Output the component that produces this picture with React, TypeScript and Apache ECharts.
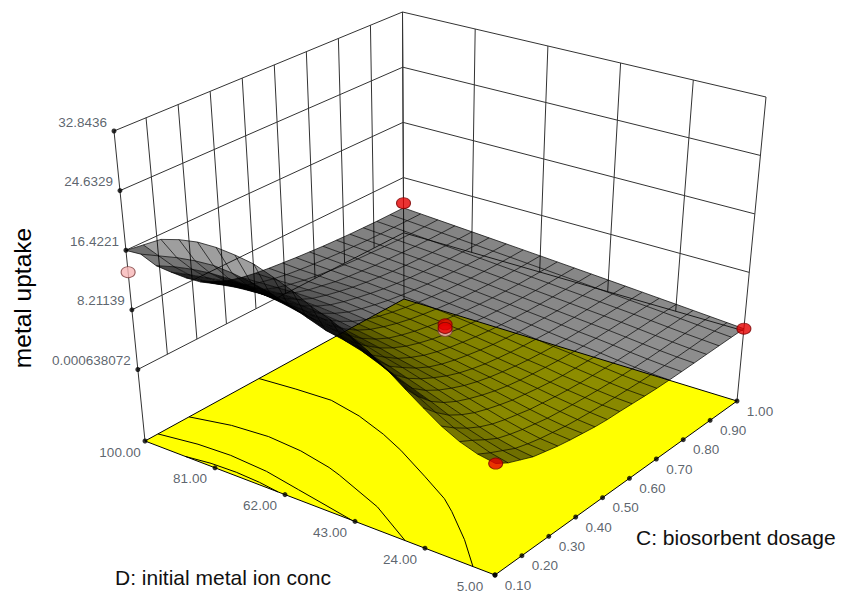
import React, { useEffect, useRef } from "react";
import * as echarts from "echarts";

const zTicks = [32.8436, 24.6329, 16.4221, 8.21139, 0.000638072];
const zTickLabels = ["32.8436", "24.6329", "16.4221", "8.21139", "0.000638072"];
const cTicks = [0.1, 0.2, 0.3, 0.4, 0.5, 0.6, 0.7, 0.8, 0.9, 1.0];
const dTicks = [100, 81, 62, 43, 24, 5];
const Z_MIN = 0.000638072, Z_MAX = 32.8436;

// metal uptake: one row per D step (100 -> 5), one column per C step (0.10 -> 1.00)
const uptake: number[][] = [
  [16.4,15,12.5,10.7,9,7.5,6.6,5.8,5.3,4.95,4.7,4.5,4.3,4.15,4,3.9,3.8,3.75,3.7,3.7,3.7],
  [18,15.6,13.2,11.2,9.4,8,6.9,6,5.4,4.95,4.6,4.35,4.15,4,3.85,3.75,3.65,3.6,3.55,3.53,3.53],
  [19.6,16.2,13.7,11.6,10,8.4,7.2,6.2,5.5,5,4.6,4.3,4.05,3.85,3.7,3.6,3.5,3.42,3.38,3.36,3.36],
  [20.4,16.6,14,12,10.2,8.6,7.4,6.4,5.6,5,4.6,4.2,3.95,3.75,3.55,3.45,3.35,3.25,3.2,3.19,3.19],
  [20.9,16.8,14.1,12.1,10.3,8.7,7.5,6.4,5.6,5.05,4.6,4.2,3.9,3.65,3.45,3.3,3.2,3.1,3.05,3.02,3.02],
  [21,16.6,14,11.9,10.2,8.6,7.3,6.3,5.5,4.95,4.5,4.1,3.75,3.5,3.3,3.15,3.02,2.93,2.88,2.85,2.85],
  [20.8,16.2,13.7,11.6,10,8.3,7.1,6.1,5.3,4.75,4.3,3.9,3.6,3.35,3.15,3,2.85,2.76,2.7,2.68,2.68],
  [20.4,15.6,13.3,11.1,9.6,8,6.8,5.8,5.05,4.5,4.05,3.7,3.4,3.15,2.95,2.8,2.68,2.58,2.52,2.51,2.51],
  [19.5,14.8,12.7,10.7,9,7.6,6.4,5.5,4.85,4.3,3.85,3.5,3.2,2.95,2.75,2.6,2.48,2.4,2.35,2.34,2.34],
  [18.5,13.9,11.9,10.2,8.5,7.1,6,5.1,4.5,4,3.6,3.25,3,2.75,2.55,2.4,2.28,2.2,2.17,2.17,2.17],
  [17.2,13,11.2,9.4,7.9,6.6,5.6,4.8,4.2,3.7,3.3,3,2.75,2.5,2.35,2.2,2.1,2.03,2,2,2],
  [16.3,12.5,10.6,8.5,7.2,6,5.1,4.35,3.8,3.35,3,2.7,2.45,2.25,2.1,1.98,1.9,1.85,1.83,1.83,1.83],
  [15.1,11.8,9.6,7.8,6.6,5.5,4.6,3.95,3.45,3.05,2.7,2.4,2.2,2,1.88,1.78,1.7,1.67,1.66,1.66,1.66],
  [13.8,10.8,8.5,7,5.9,5,4.2,3.55,3.05,2.65,2.35,2.1,1.9,1.75,1.62,1.55,1.5,1.49,1.49,1.49,1.49],
  [12.2,9.6,7.5,6.2,5.2,4.4,3.7,3.15,2.7,2.35,2.05,1.8,1.62,1.48,1.38,1.33,1.32,1.32,1.32,1.32,1.32],
  [10.4,8.3,6.6,5.4,4.5,3.8,3.2,2.7,2.3,2,1.75,1.55,1.38,1.27,1.18,1.15,1.15,1.15,1.15,1.15,1.15],
  [8.7,7,5.6,4.6,3.8,3.2,2.7,2.25,1.95,1.65,1.4,1.2,1.1,1,0.95,0.93,0.93,0.95,0.97,0.98,0.98],
  [7.1,5.8,4.7,3.8,3.1,2.6,2.2,1.8,1.55,1.3,1.1,0.95,0.85,0.75,0.7,0.68,0.7,0.73,0.77,0.8,0.81],
  [5.9,5,4,3.1,2.55,2.1,1.75,1.4,1.2,1,0.85,0.7,0.6,0.52,0.48,0.47,0.5,0.54,0.58,0.62,0.64],
  [5.1,4.2,3.4,2.6,2.1,1.7,1.4,1.1,0.9,0.75,0.6,0.5,0.4,0.33,0.3,0.3,0.33,0.37,0.42,0.45,0.47],
  [4.7,3.7,3,2.3,1.9,1.5,1.2,0.95,0.7,0.55,0.5,0.4,0.3,0.22,0.2,0.2,0.22,0.25,0.27,0.29,0.3],
];

// floor contours, as [C fraction, D fraction] pairs
const contour5 = [[.44,0],[.45,.1],[.455,.2],[.43,.3],[.39,.4],[.35,.48],[.28,.6],[.22,.7],[.18,.75],[.09,.85],[0,.937]];
const contour10 = [[.17,0],[.2,.1],[.21,.2],[.2,.3],[.175,.4],[.16,.44],[.09,.6],[0,.743]];
const contour15 = [[.05,0],[.07,.1],[.075,.19],[.065,.3],[.04,.41],[.02,.5],[0,.59]];
const contour20 = [[0,.115],[.012,.18],[.015,.25],[.01,.32],[0,.38]];

// design points [C, D, uptake]
const redPoints = [[1, 100, 4.4], [1, 5, 0.3], [0.1, 5, 4.7], [0.55, 52.5, 4.7], [0.55, 52.5, 4.2]];
const pinkPoints = [[0.1, 100, 13.4], [0.55, 52.5, 3.8]];

// box corners on the page: [floor, top] at each (u, v) corner
const LEFT = [[145, 441], [114, 131]];
const BACK = [[404, 299], [402.5, 12]];
const RIGHT = [[737, 401], [766, 97]];
const FRONT = [[495, 575], [497, 248]];
const FLOOR = -0.3;

const project = (u: number, v: number, w: number): [number, number] => {
  const t = (w - FLOOR) / (1 - FLOOR);
  const at = (k: number, a: number) =>
    (1 - u) * (1 - v) * LEFT[k][a] + u * (1 - v) * BACK[k][a] + u * v * RIGHT[k][a] + (1 - u) * v * FRONT[k][a];
  return [(1 - t) * at(0, 0) + t * at(1, 0), (1 - t) * at(0, 1) + t * at(1, 1)];
};
const uOf = (c: number) => (c - 0.1) / 0.9;
const vOf = (d: number) => (100 - d) / 95;
const wOf = (z: number) => (z - Z_MIN) / (Z_MAX - Z_MIN);

const BREAK: any = ["-", "-"];
const polylines = (lines: [number, number][][]) => {
  const out: any[] = [];
  lines.forEach((l) => { out.push(...l, BREAK); });
  return out;
};

function buildOption() {
  const rows = uptake.length, cols = uptake[0].length;
  const mesh = uptake.map((row, i) =>
    row.map((z, j) => project(j / (cols - 1), i / (rows - 1), wOf(z)))
  );
  const cells: number[][] = [];
  for (let i = 0; i < rows - 1; i++)
    for (let j = 0; j < cols - 1; j++)
      cells.push([...mesh[i][j], ...mesh[i][j + 1], ...mesh[i + 1][j + 1], ...mesh[i + 1][j]]);

  const meshLines: [number, number][][] = [...mesh];
  for (let j = 0; j < cols; j++) meshLines.push(mesh.map((r) => r[j]));

  const wall: [number, number][][] = [];
  zTicks.forEach((z) => {
    const w = wOf(z);
    wall.push([project(0, 0, w), project(1, 0, w), project(1, 1, w)]);
  });
  cTicks.forEach((c) => wall.push([project(uOf(c), 0, 0), project(uOf(c), 0, 1)]));
  dTicks.forEach((d) => wall.push([project(1, vOf(d), 0), project(1, vOf(d), 1)]));
  wall.push([project(0, 0, FLOOR), project(0, 0, 0)]);
  wall.push([project(1, 0, FLOOR), project(1, 0, 0)]);
  wall.push([project(1, 1, FLOOR), project(1, 1, 0)]);

  const floorPoly = [project(0, 0, FLOOR), project(0, 1, FLOOR), project(1, 1, FLOOR), project(1, 0, FLOOR)].flat();
  const contours = [contour5, contour10, contour15, contour20].map((c) =>
    c.map(([u, v]) => project(u, v, FLOOR))
  );

  const points = (api: any) => {
    const pts: number[][] = [];
    for (let i = 0; i < 8; i += 2) pts.push(api.coord([api.value(i), api.value(i + 1)]));
    return pts;
  };
  const floorItem = (_: any, api: any) => ({
    type: "polygon", shape: { points: points(api) }, style: { fill: "#ffff00", stroke: "#000", lineWidth: 1 },
  });
  // the tighter a cell is foreshortened, the darker its tone, as with a denser wire mesh
  const cellItem = (_: any, api: any) => {
    const p = points(api);
    let a = 0;
    for (let i = 0; i < 4; i++) {
      const q = p[(i + 1) % 4];
      a += p[i][0] * q[1] - q[0] * p[i][1];
    }
    const area = Math.max(Math.abs(a) / 2, 1);
    const alpha = Math.max(0.38, Math.min(0.88, 1 - Math.pow(0.5, 190 / area)));
    return { type: "polygon", shape: { points: p }, style: { fill: `rgba(0,0,0,${alpha.toFixed(3)})`, stroke: "none" } };
  };
  const textColor = "#333c48";
  const tickScatter = (data: any[], label: any) => ({
    type: "scatter", data, symbolSize: 5, itemStyle: { color: "#000" }, silent: true, z: 6,
    label: { show: true, position: "inside", fontFamily: "Liberation Sans", fontSize: 13.5, color: textColor, formatter: (p: any) => p.data[2], ...label },
  });
  const design = (pts: number[][], size: number[], color: string, border: string) => ({
    type: "scatter", symbol: "circle", symbolSize: size, silent: true, z: 8,
    itemStyle: { color, borderColor: border, borderWidth: 1 },
    data: pts.map(([c, d, z]) => project(uOf(c), vOf(d), wOf(z))),
  });

  return {
    animation: false,
    backgroundColor: "#fff",
    grid: { left: 0, right: 0, top: 0, bottom: 0 },
    xAxis: { type: "value", min: 0, max: 845, show: false },
    yAxis: { type: "value", min: 0, max: 592, inverse: true, show: false },
    graphic: [
      { type: "text", x: 22, y: 298, rotation: Math.PI / 2, style: { text: "metal uptake", font: "24.5px 'Liberation Sans'", fill: "#000", align: "center", verticalAlign: "middle" } },
      { type: "text", x: 115, y: 577, style: { text: "D: initial metal ion conc", font: "21px 'Liberation Sans'", fill: "#111", align: "left", verticalAlign: "middle" } },
      { type: "text", x: 636, y: 537, style: { text: "C: biosorbent dosage", font: "21px 'Liberation Sans'", fill: "#111", align: "left", verticalAlign: "middle" } },
    ],
    series: [
      { type: "custom", data: [floorPoly], renderItem: floorItem, silent: true, z: 1, clip: false },
      { type: "line", data: polylines(wall), showSymbol: false, lineStyle: { color: "#333", width: 1 }, silent: true, z: 2, connectNulls: false },
      { type: "line", data: polylines(contours), showSymbol: false, lineStyle: { color: "#000", width: 1 }, silent: true, z: 3, connectNulls: false },
      { type: "custom", data: cells, renderItem: cellItem, silent: true, z: 4, clip: false },
      { type: "line", data: polylines(meshLines), showSymbol: false, lineStyle: { color: "#000", width: 0.7 }, silent: true, z: 5, connectNulls: false },
      tickScatter(zTicks.map((z, i) => [...project(0, 0, wOf(z)), zTickLabels[i]]), { align: "right", offset: [-7, -9] }),
      tickScatter(dTicks.map((d) => [...project(0, vOf(d), FLOOR), d.toFixed(2)]), { align: "center", offset: [-25, 11] }),
      tickScatter(cTicks.map((c) => [...project(uOf(c), 1, FLOOR), c.toFixed(2)]), { align: "center", offset: [23, 10] }),
      design(pinkPoints, [14, 11], "#f7b6b6", "#7a3a3a"),
      design(redPoints, [14, 11], "#e60000", "#7a0000"),
    ],
  };
}

export default function App() {
  const ref = useRef<HTMLDivElement>(null);
  useEffect(() => {
    document.body.style.margin = "0";
    const chart = echarts.init(ref.current!, undefined, { renderer: "svg" });
    chart.setOption(buildOption() as any);
    return () => chart.dispose();
  }, []);
  return <div ref={ref} style={{ width: 845, height: 592 }} />;
}
